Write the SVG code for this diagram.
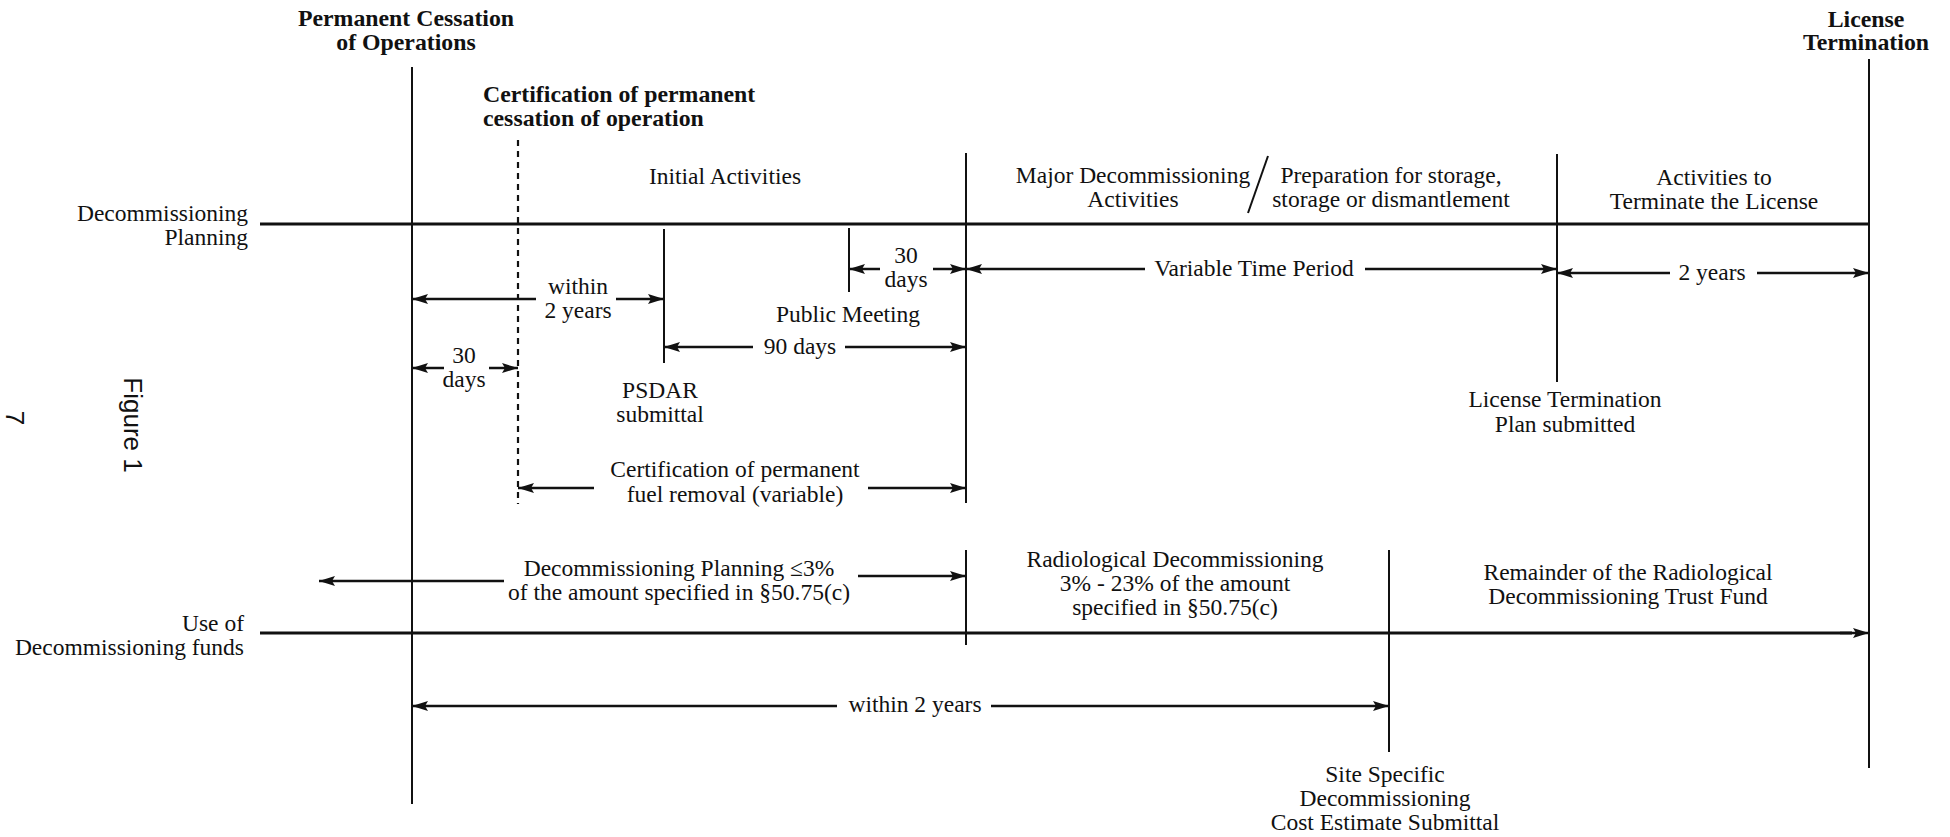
<svg xmlns="http://www.w3.org/2000/svg" width="1950" height="837" viewBox="0 0 1950 837">
<style>
text{font-family:"Liberation Serif","Times New Roman",serif;font-size:23.5px;fill:#111}
.b{font-weight:bold;font-size:23.8px}
.m{text-anchor:middle}
.e{text-anchor:end}
.fig{font-family:"Liberation Sans",Arial,sans-serif;font-size:26px}
.v{stroke:#111;stroke-width:2;fill:none}
.h{stroke:#111;stroke-width:3;fill:none}
.a{stroke:#111;stroke-width:2.5;fill:none;marker-end:url(#ah)}
.d{stroke:#111;stroke-width:2.2;stroke-dasharray:6 5;fill:none}
</style>
<defs>
<marker id="ah" markerUnits="userSpaceOnUse" markerWidth="18" markerHeight="12" refX="16" refY="5" orient="auto">
<path d="M0,0 L16,5 L0,10 L3,5 z" fill="#111"/>
</marker>
</defs>
<rect width="1950" height="837" fill="#fff"/>

<g id="page-labels">
<text class="fig m" transform="translate(124,425) rotate(90)">Figure 1</text>
<text class="fig m" transform="translate(6,418) rotate(90)">7</text>
</g>

<g id="row-planning">
<line class="h" x1="260" y1="224" x2="1869" y2="224"/>
<text class="e" x="248" y="221">Decommissioning</text>
<text class="e" x="248" y="245">Planning</text>
</g>

<g id="row-funds">
<text class="e" x="244" y="631">Use of</text>
<text class="e" x="244" y="655">Decommissioning funds</text>
</g>

<g id="permanent-cessation">
<line class="v" x1="412" y1="67" x2="412" y2="804"/>
<text class="b m" x="406" y="26">Permanent Cessation</text>
<text class="b m" x="406" y="50">of Operations</text>
</g>

<g id="certification-cessation">
<line class="d" x1="518" y1="140" x2="518" y2="504"/>
<text class="b" x="483" y="102">Certification of permanent</text>
<text class="b" x="483" y="126">cessation of operation</text>
</g>

<g id="psdar">
<line class="v" x1="664" y1="229" x2="664" y2="363"/>
<text class="m" x="660" y="398">PSDAR</text>
<text class="m" x="660" y="422">submittal</text>
</g>

<g id="public-meeting">
<line class="v" x1="849" y1="228" x2="849" y2="292"/>
<text class="m" x="848" y="322">Public Meeting</text>
</g>

<g id="major-decommissioning">
<line class="v" x1="966" y1="153" x2="966" y2="503"/>
<line class="v" x1="966" y1="550" x2="966" y2="645"/>
<text class="m" x="725" y="184">Initial Activities</text>
<text class="m" x="1133" y="183">Major Decommissioning</text>
<text class="m" x="1133" y="207">Activities</text>
<line class="v" x1="1268" y1="156" x2="1248" y2="213"/>
<text class="m" x="1391" y="183">Preparation for storage,</text>
<text class="m" x="1391" y="207">storage or dismantlement</text>
</g>

<g id="ltp-submitted">
<line class="v" x1="1557" y1="154" x2="1557" y2="382"/>
<text class="m" x="1714" y="185">Activities to</text>
<text class="m" x="1714" y="209">Terminate the License</text>
<text class="m" x="1565" y="407">License Termination</text>
<text class="m" x="1565" y="432">Plan submitted</text>
</g>

<g id="license-termination">
<line class="v" x1="1869" y1="59" x2="1869" y2="768"/>
<text class="b m" x="1866" y="27">License</text>
<text class="b m" x="1866" y="50">Termination</text>
</g>

<g id="site-specific">
<line class="v" x1="1389" y1="550" x2="1389" y2="752"/>
<text class="m" x="1385" y="782">Site Specific</text>
<text class="m" x="1385" y="806">Decommissioning</text>
<text class="m" x="1385" y="830">Cost Estimate Submittal</text>
</g>

<g id="fund-labels">
<text class="m" x="679" y="576">Decommissioning Planning ≤3%</text>
<text class="m" x="679" y="600">of the amount specified in §50.75(c)</text>
<text class="m" x="1175" y="567">Radiological Decommissioning</text>
<text class="m" x="1175" y="591">3% - 23% of the amount</text>
<text class="m" x="1175" y="615">specified in §50.75(c)</text>
<text class="m" x="1628" y="580">Remainder of the Radiological</text>
<text class="m" x="1628" y="604">Decommissioning Trust Fund</text>
</g>

<g id="connectors">
<line class="a" x1="536" y1="299" x2="412" y2="299"/>
<line class="a" x1="616" y1="299" x2="664" y2="299"/>
<text class="m" x="578" y="294">within</text>
<text class="m" x="578" y="318">2 years</text>

<line class="a" x1="444" y1="368" x2="412" y2="368"/>
<line class="a" x1="489" y1="368" x2="518" y2="368"/>
<text class="m" x="464" y="363">30</text>
<text class="m" x="464" y="387">days</text>

<line class="a" x1="880" y1="269" x2="849" y2="269"/>
<line class="a" x1="933" y1="269" x2="966" y2="269"/>
<text class="m" x="906" y="263">30</text>
<text class="m" x="906" y="287">days</text>

<line class="a" x1="1145" y1="269" x2="966" y2="269"/>
<line class="a" x1="1365" y1="269" x2="1557" y2="269"/>
<text class="m" x="1254" y="276">Variable Time Period</text>

<line class="a" x1="1670" y1="273" x2="1557" y2="273"/>
<line class="a" x1="1757" y1="273" x2="1869" y2="273"/>
<text class="m" x="1712" y="280">2 years</text>

<line class="a" x1="753" y1="347" x2="664" y2="347"/>
<line class="a" x1="845" y1="347" x2="966" y2="347"/>
<text class="m" x="800" y="354">90 days</text>

<line class="a" x1="594" y1="488" x2="518" y2="488"/>
<line class="a" x1="868" y1="488" x2="966" y2="488"/>
<text class="m" x="735" y="477">Certification of permanent</text>
<text class="m" x="735" y="502">fuel removal (variable)</text>

<line class="a" x1="504" y1="581" x2="319" y2="581"/>
<line class="a" x1="858" y1="576" x2="966" y2="576"/>

<line class="h" x1="260" y1="633" x2="1852" y2="633"/>
<line class="a" x1="1840" y1="633" x2="1869" y2="633"/>

<line class="a" x1="837" y1="706" x2="412" y2="706"/>
<line class="a" x1="991" y1="706" x2="1389" y2="706"/>
<text class="m" x="915" y="712">within 2 years</text>
</g>
</svg>
